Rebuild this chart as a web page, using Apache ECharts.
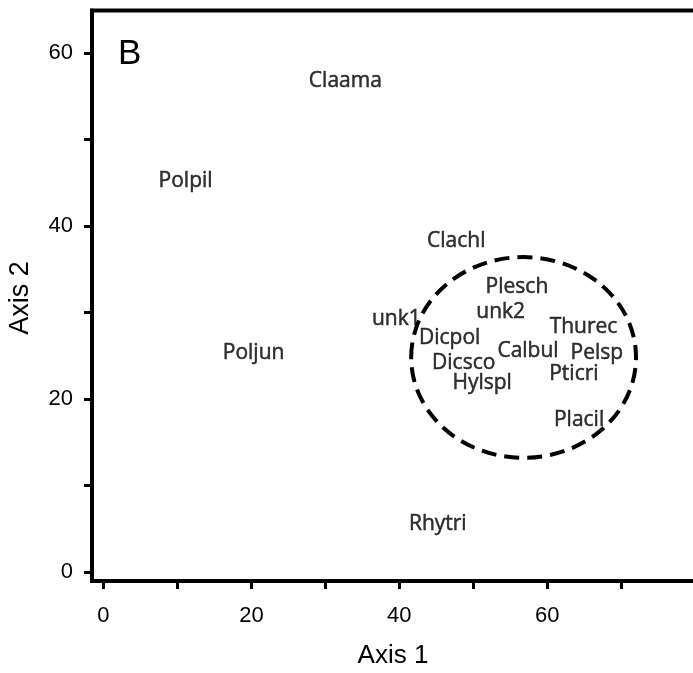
<!DOCTYPE html>
<html>
<head>
<meta charset="utf-8">
<script src="https://cdn.jsdelivr.net/npm/echarts@6/dist/echarts.min.js"></script>
<style>
html,body{margin:0;padding:0;background:#fff;}
#chart{width:693px;height:673px;}
</style>
</head>
<body>
<div id="chart"></div>
<script>
// Species labels with ordination scores (Axis 1, Axis 2)
const speciesNames = ['Claama','Polpil','Clachl','Plesch','unk2','unk1','Thurec','Dicpol','Calbul','Pelsp','Dicsco','Pticri','Hylspl','Placil','Poljun','Rhytri'];
const axis1Scores = [32.7, 11.1, 47.7, 55.9, 53.7, 39.6, 64.9, 46.8, 57.4, 66.7, 48.7, 63.6, 51.2, 64.3, 20.3, 45.2];
const axis2Scores = [56.7, 45.2, 38.2, 32.9, 30.1, 29.2, 28.3, 27.0, 25.5, 25.3, 24.2, 22.9, 21.9, 17.6, 25.3, 5.6];

// Dashed ellipse (centre and radii in data units)
const ellipseCenter = [56.8, 24.8];
const ellipseRadii = [15.2, 11.6];

// Tick marks and labels
const xTicks = [0, 10, 20, 30, 40, 50, 60, 70, 80];
const xTickLabels = [0, 20, 40, 60];
const yTicks = [0, 10, 20, 30, 40, 50, 60];
const yTickLabels = [0, 20, 40, 60];

const scatterData = speciesNames.map((n, i) => [axis1Scores[i], axis2Scores[i], n]);

const chart = echarts.init(document.getElementById('chart'), null, {renderer: 'canvas'});
const labelFont = "'Liberation Sans', Arial, sans-serif";
const option = {
  animation: false,
  backgroundColor: '#fff',
  title: {
    text: 'B', left: 113, top: 32,
    textStyle: {fontFamily: "'Liberation Sans', sans-serif", fontSize: 35, fontWeight: 'normal', color: '#000'}
  },
  grid: {left: 92, top: 10.5, width: 618, height: 570.5, show: true, borderColor: '#000', borderWidth: 4, backgroundColor: 'transparent', outerBoundsMode: 'none', containLabel: false},
  xAxis: {
    type: 'value', min: -1.55, max: 82,
    axisLine: {show: true, onZero: false, lineStyle: {color: '#000', width: 4}},
    axisTick: {show: true, customValues: xTicks, length: 8, lineStyle: {color: '#000', width: 3}},
    axisLabel: {customValues: xTickLabels, fontFamily: labelFont, fontSize: 22, color: '#000', margin: 24},
    splitLine: {show: false}
  },
  yAxis: {
    type: 'value', min: -1.04, max: 64.9,
    axisLine: {show: true, onZero: false, lineStyle: {color: '#000', width: 4}},
    axisTick: {show: true, customValues: yTicks, length: 8, lineStyle: {color: '#000', width: 3}},
    axisLabel: {customValues: yTickLabels, fontFamily: labelFont, fontSize: 22, color: '#000', margin: 19},
    splitLine: {show: false}
  },
  graphic: [
    {type: 'text', x: 393, y: 656, style: {text: 'Axis 1', fontFamily: labelFont, fontSize: 26, fill: '#000', textAlign: 'center', textVerticalAlign: 'middle'}},
    {type: 'text', x: 21, y: 298, rotation: Math.PI / 2, style: {text: 'Axis 2', fontFamily: labelFont, fontSize: 27, fill: '#000', textAlign: 'center', textVerticalAlign: 'middle'}}
  ],
  series: [
    {
      type: 'custom',
      silent: true,
      data: [[ellipseCenter[0], ellipseCenter[1], ellipseRadii[0], ellipseRadii[1]]],
      renderItem: function (params, api) {
        const c = api.coord([api.value(0), api.value(1)]);
        const s = api.size([api.value(2), api.value(3)]);
        return {
          type: 'ellipse',
          shape: {cx: c[0], cy: c[1], rx: s[0], ry: s[1]},
          style: {fill: 'none', stroke: '#000', lineWidth: 4, lineDash: [15, 8]}
        };
      },
      z: 1
    },
    {
      type: 'scatter',
      data: scatterData,
      symbolSize: 0,
      itemStyle: {color: '#000'},
      label: {
        show: true, position: 'inside',
        formatter: p => p.data[2],
        fontFamily: "'Open Sans', sans-serif", fontSize: 21, color: '#000',
        textBorderColor: '#000', textBorderWidth: 0.5
      },
      z: 3
    }
  ]
};
chart.setOption(option);
</script>
</body>
</html>
